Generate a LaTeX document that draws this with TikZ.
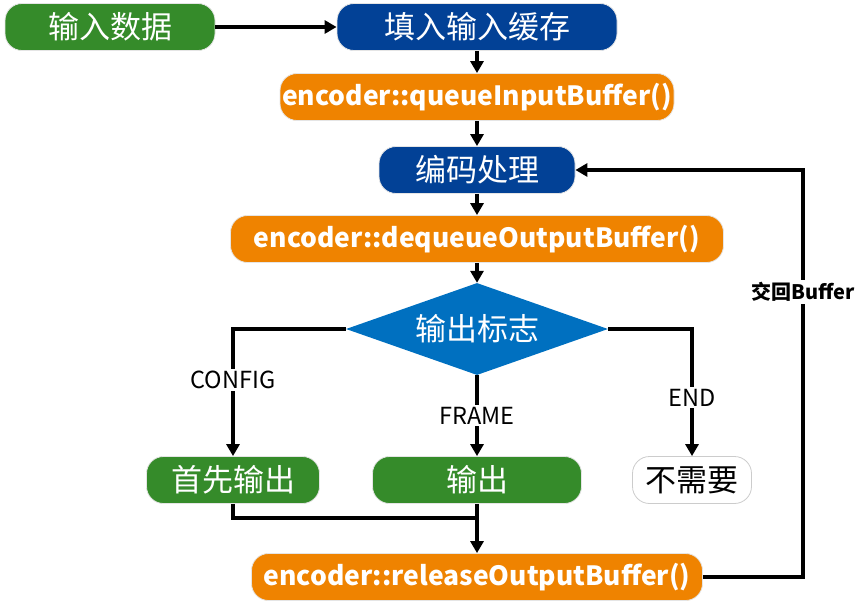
\documentclass[tikz,border=0pt]{standalone}
\usepackage{fontspec}
\setmainfont{Noto Sans CJK SC}
\usetikzlibrary{arrows.meta,shapes.geometric}
\definecolor{flowgreen}{RGB}{53,139,42}
\definecolor{flowblue}{RGB}{2,65,150}
\definecolor{floworange}{RGB}{239,131,0}
\definecolor{flowdiam}{RGB}{0,112,192}

\begin{document}
\begin{tikzpicture}[x=1pt, y=-1pt,
		box/.style={rounded corners=17pt, minimum height=47pt, inner sep=0pt, text=white, draw=black!10, line width=0.8pt, font=\fontsize{31}{36}\selectfont},
		greenbox/.style={box, fill=flowgreen},
		bluebox/.style={box, fill=flowblue},
		orangebox/.style={box, fill=floworange, font=\bfseries\fontsize{26.5}{32}\selectfont},
		flow/.style={line width=3.4pt, -{Triangle[length=12pt,width=13pt]}},
		link/.style={line width=3.4pt},
		lbl/.style={fill=white, inner sep=2pt, font=\fontsize{23.5}{28}\selectfont}]
			%%%%% START %%%%%
			
			\useasboundingbox (0, 0) rectangle (866, 613);
			
			\node[greenbox, minimum width=210pt] (input) at (110, 27) {输入数据};
			\node[bluebox, minimum width=280pt] (fill) at (477, 27) {填入输入缓存};
			\node[orangebox, minimum width=394pt] (queue) at (477, 97) {encoder::queueInputBuffer()};
			\node[bluebox, minimum width=196pt] (encode) at (477, 170) {编码处理};
			\node[orangebox, minimum width=493pt] (dequeue) at (477, 239) {encoder::dequeueOutputBuffer()};
			
			\node[diamond, aspect=2.85, fill=flowdiam, minimum width=262pt, minimum height=92pt, inner sep=0pt, text=white, font=\fontsize{31}{36}\selectfont] (flag) at (477, 329) {输出标志};
			
			\node[greenbox, minimum width=173pt] (first) at (233, 480) {首先输出};
			\node[greenbox, minimum width=209pt] (out) at (477, 480) {输出};
			\node[box, fill=white, text=black, draw=black!20, minimum width=119pt] (none) at (692, 480) {不需要};
			\node[orangebox, minimum width=451pt] (release) at (477, 577) {encoder::releaseOutputBuffer()};
			
			\coordinate (join) at (477, 518);
			\coordinate (back) at (803, 577);
			
			\draw[flow] (input) -- (fill);
			\draw[flow] (fill) -- (queue);
			\draw[flow] (queue) -- (encode);
			\draw[flow] (encode) -- (dequeue);
			\draw[flow] (dequeue) -- (flag);
			
			\draw[flow] (flag.west) -| node[lbl, pos=0.7] {CONFIG} (first);
			\draw[flow] (flag.south) -- node[lbl, pos=0.5] {FRAME} (out);
			\draw[flow] (flag.east) -| node[lbl, pos=0.77] {END} (none);
			
			\draw[link] (first.south) |- (join);
			\draw[flow] (out) -- (release);
			\draw[flow] (release.east) -- (back) |- node[lbl, pos=0.35, font=\bfseries\fontsize{20}{24}\selectfont] {交回Buffer} (encode.east);
			
			%%%%% END %%%%%
\end{tikzpicture}
\end{document}
